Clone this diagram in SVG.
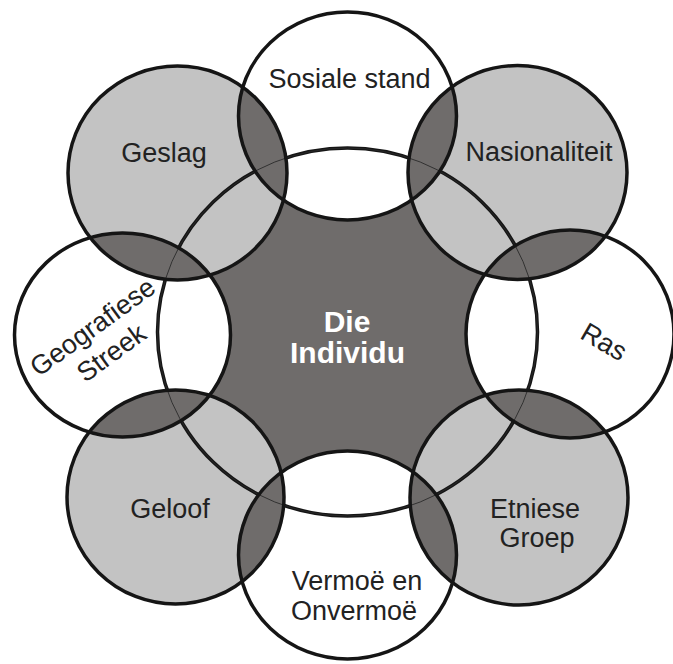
<svg xmlns="http://www.w3.org/2000/svg" width="673" height="664" viewBox="0 0 673 664">
<style>
.ln{fill:none;stroke:#151515;stroke-width:3.5}
.thin{fill:none;stroke:#2a2a2a;stroke-width:0.9}
.dark{fill:#6f6c6b}
.lt{fill:#c3c3c3}
.wh{fill:#ffffff}
text{font-family:"Liberation Sans",Arial,sans-serif;font-size:27px;fill:#222;text-anchor:middle}
.ctr{font-weight:bold;fill:#ffffff;font-size:30px}
</style>
<defs>
<ellipse id="eC" cx="347.5" cy="332" rx="190" ry="184"/>
<ellipse id="eSos" cx="347.5" cy="116" rx="109" ry="104"/>
<ellipse id="eNas" cx="517.5" cy="172.5" rx="109.5" ry="107"/>
<ellipse id="eRas" cx="570" cy="334" rx="104" ry="104"/>
<ellipse id="eEtn" cx="519" cy="497.5" rx="109" ry="107.5"/>
<ellipse id="eVer" cx="347.5" cy="555" rx="109" ry="104"/>
<ellipse id="eGel" cx="175.5" cy="497" rx="108.5" ry="107"/>
<ellipse id="eGeo" cx="122.5" cy="335" rx="108" ry="102"/>
<ellipse id="eGes" cx="177.5" cy="173" rx="109.5" ry="107"/>
<clipPath id="cSos"><use href="#eSos"/></clipPath>
<clipPath id="cNas"><use href="#eNas"/></clipPath>
<clipPath id="cRas"><use href="#eRas"/></clipPath>
<clipPath id="cEtn"><use href="#eEtn"/></clipPath>
<clipPath id="cVer"><use href="#eVer"/></clipPath>
<clipPath id="cGel"><use href="#eGel"/></clipPath>
<clipPath id="cGeo"><use href="#eGeo"/></clipPath>
<clipPath id="cGes"><use href="#eGes"/></clipPath>
</defs>

<g id="node-individu">
<use href="#eC" class="dark"/>
<text class="ctr" x="347" y="332">Die</text>
<text class="ctr" x="347.5" y="363">Individu</text>
</g>
<g id="node-sosiale-stand">
<use href="#eSos" class="wh"/>
<text x="349.5" y="88">Sosiale stand</text>
</g>
<g id="node-nasionaliteit">
<use href="#eNas" class="lt"/>
<text x="539" y="161">Nasionaliteit</text>
</g>
<g id="node-ras">
<use href="#eRas" class="wh"/>
<text transform="translate(604,342) rotate(30)" x="0" y="9">Ras</text>
</g>
<g id="node-etniese-groep">
<use href="#eEtn" class="lt"/>
<text x="535" y="518">Etniese</text>
<text x="537" y="547">Groep</text>
</g>
<g id="node-vermoe">
<use href="#eVer" class="wh"/>
<text x="357" y="590">Vermoë en</text>
<text x="354" y="620">Onvermoë</text>
</g>
<g id="node-geloof">
<use href="#eGel" class="lt"/>
<text x="170" y="518">Geloof</text>
</g>
<g id="node-geografiese-streek">
<use href="#eGeo" class="wh"/>
<g transform="translate(102,340) rotate(-36)">
<text x="0" y="-7">Geografiese</text>
<text x="0" y="25">Streek</text>
</g>
</g>
<g id="node-geslag">
<use href="#eGes" class="lt"/>
<text x="164" y="162">Geslag</text>
</g>

<g id="connectors">
<use href="#eC" class="ln"/>
<g id="overlaps" class="dark">
<use href="#eSos" clip-path="url(#cNas)"/>
<use href="#eNas" clip-path="url(#cRas)"/>
<use href="#eRas" clip-path="url(#cEtn)"/>
<use href="#eEtn" clip-path="url(#cVer)"/>
<use href="#eVer" clip-path="url(#cGel)"/>
<use href="#eGel" clip-path="url(#cGeo)"/>
<use href="#eGeo" clip-path="url(#cGes)"/>
<use href="#eGes" clip-path="url(#cSos)"/>
</g>
<use href="#eC" class="thin"/>
<use href="#eSos" class="ln"/>
<use href="#eNas" class="ln"/>
<use href="#eRas" class="ln"/>
<use href="#eEtn" class="ln"/>
<use href="#eVer" class="ln"/>
<use href="#eGel" class="ln"/>
<use href="#eGeo" class="ln"/>
<use href="#eGes" class="ln"/>
</g>
</svg>
